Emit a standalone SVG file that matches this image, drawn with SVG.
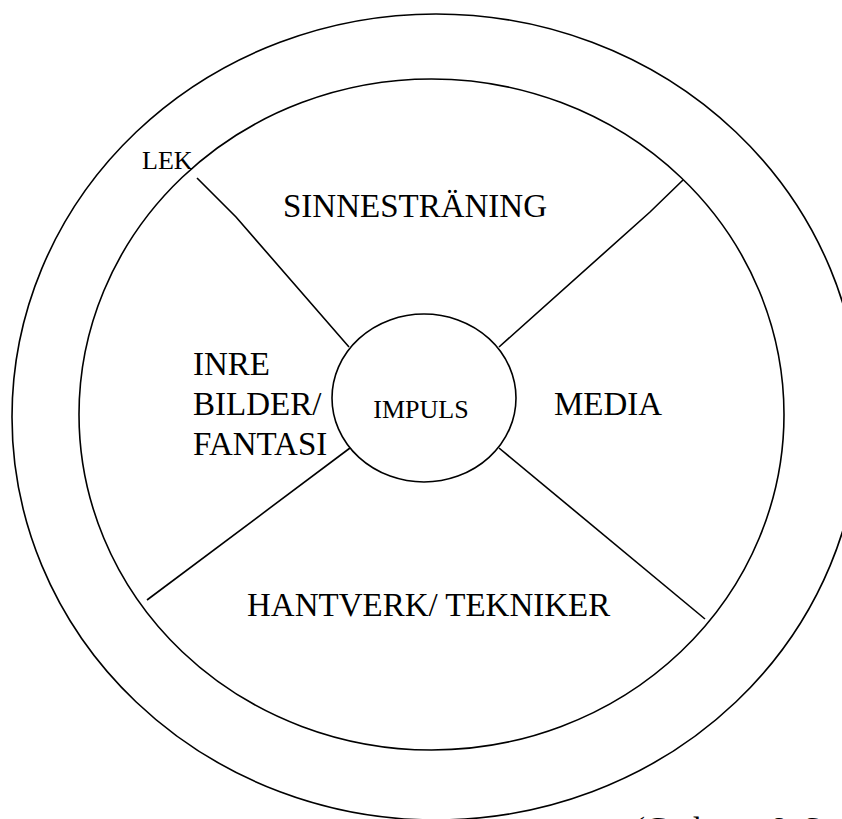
<svg xmlns="http://www.w3.org/2000/svg" width="842" height="819" viewBox="0 0 842 819">
<style>
.c{fill:none;stroke:#000;stroke-width:1.6}
.l{fill:none;stroke:#000;stroke-width:1.6}
text{font-family:"Liberation Serif","Times New Roman","DejaVu Serif",serif;fill:#000}
.big{font-size:33px}
.sm{font-size:26px}
</style>
<rect width="842" height="819" fill="#fff"/>
<g id="outer"><ellipse class="c" cx="436" cy="417" rx="424" ry="403"/></g>
<g id="inner"><ellipse class="c" cx="431.5" cy="414.5" rx="352.5" ry="335.5"/></g>
<g id="connectors">
<polyline class="l" points="197,178 236,217 349,347"/>
<polyline class="l" points="683,180 650,212 499,347"/>
<line class="l" x1="147" y1="600" x2="350" y2="448"/>
<line class="l" x1="499" y1="448" x2="705" y2="619"/>
</g>
<g id="impuls"><ellipse class="c" cx="424" cy="398" rx="92" ry="84"/>
<text class="sm" font-family="Liberation Serif, serif" x="421" y="418" text-anchor="middle">IMPULS</text></g>
<g id="lek"><text class="sm" font-family="Liberation Serif, serif" x="142" y="169">LEK</text></g>
<g id="sinnestraning"><text class="big" font-family="Liberation Serif, serif" x="283" y="217">SINNESTRÄNING</text></g>
<g id="inre"><text class="big" font-family="Liberation Serif, serif" x="193" y="375">INRE</text><text class="big" font-family="Liberation Serif, serif" x="193" y="415">BILDER/</text><text class="big" font-family="Liberation Serif, serif" x="193" y="455">FANTASI</text></g>
<g id="media"><text class="big" font-family="Liberation Serif, serif" x="554" y="415">MEDIA</text></g>
<g id="hantverk"><text class="big" font-family="Liberation Serif, serif" x="247" y="616">HANTVERK/ TEKNIKER</text></g>
<g id="source"><text class="big" font-family="Liberation Serif, serif" x="634" y="840">(Carlsson &amp; S</text></g>
</svg>
